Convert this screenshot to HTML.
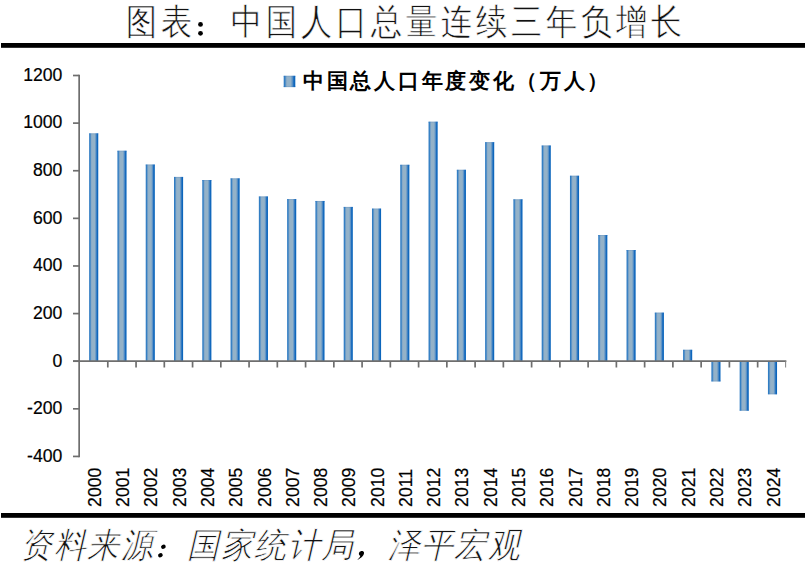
<!DOCTYPE html><html><head><meta charset="utf-8"><style>html,body{margin:0;padding:0;background:#fff;width:807px;height:574px;overflow:hidden}svg{display:block}text{font-family:"Liberation Sans",sans-serif}</style></head><body>
<svg width="807" height="574" viewBox="0 0 807 574">
<defs><linearGradient id="g" x1="0" x2="1" y1="0" y2="0"><stop offset="0" stop-color="#2a78c2"/><stop offset="0.1" stop-color="#3580c4"/><stop offset="0.25" stop-color="#8aabc8"/><stop offset="0.32" stop-color="#94b2c8"/><stop offset="0.6" stop-color="#94b2c8"/><stop offset="0.75" stop-color="#5c92c6"/><stop offset="0.86" stop-color="#1a6cbe"/><stop offset="1" stop-color="#0060ba"/></linearGradient><linearGradient id="gt" x1="0" x2="1" y1="0" y2="0"><stop offset="0" stop-color="#1f70c0"/><stop offset="0.3" stop-color="#6f9ac4"/><stop offset="0.6" stop-color="#6f9ac4"/><stop offset="1" stop-color="#0a60bc"/></linearGradient><linearGradient id="gl" x1="0" x2="1" y1="0" y2="0"><stop offset="0" stop-color="#2a74c2"/><stop offset="0.25" stop-color="#7ea4c8"/><stop offset="0.5" stop-color="#9fb9cf"/><stop offset="0.75" stop-color="#7aa2c8"/><stop offset="1" stop-color="#0f66c0"/></linearGradient></defs>
<text transform="translate(126.30,34.30) scale(0.89,1.03)" font-size="35" fill="#111" stroke="#fff" stroke-width="0.6" paint-order="fill stroke">图</text>
<text transform="translate(161.30,34.30) scale(0.89,1.03)" font-size="35" fill="#111" stroke="#fff" stroke-width="0.6" paint-order="fill stroke">表</text>
<text transform="translate(231.30,34.30) scale(0.89,1.03)" font-size="35" fill="#111" stroke="#fff" stroke-width="0.6" paint-order="fill stroke">中</text>
<text transform="translate(266.30,34.30) scale(0.89,1.03)" font-size="35" fill="#111" stroke="#fff" stroke-width="0.6" paint-order="fill stroke">国</text>
<text transform="translate(301.30,34.30) scale(0.89,1.03)" font-size="35" fill="#111" stroke="#fff" stroke-width="0.6" paint-order="fill stroke">人</text>
<text transform="translate(336.30,34.30) scale(0.89,1.03)" font-size="35" fill="#111" stroke="#fff" stroke-width="0.6" paint-order="fill stroke">口</text>
<text transform="translate(371.30,34.30) scale(0.89,1.03)" font-size="35" fill="#111" stroke="#fff" stroke-width="0.6" paint-order="fill stroke">总</text>
<text transform="translate(406.30,34.30) scale(0.89,1.03)" font-size="35" fill="#111" stroke="#fff" stroke-width="0.6" paint-order="fill stroke">量</text>
<text transform="translate(441.30,34.30) scale(0.89,1.03)" font-size="35" fill="#111" stroke="#fff" stroke-width="0.6" paint-order="fill stroke">连</text>
<text transform="translate(476.30,34.30) scale(0.89,1.03)" font-size="35" fill="#111" stroke="#fff" stroke-width="0.6" paint-order="fill stroke">续</text>
<text transform="translate(511.30,34.30) scale(0.89,1.03)" font-size="35" fill="#111" stroke="#fff" stroke-width="0.6" paint-order="fill stroke">三</text>
<text transform="translate(546.30,34.30) scale(0.89,1.03)" font-size="35" fill="#111" stroke="#fff" stroke-width="0.6" paint-order="fill stroke">年</text>
<text transform="translate(581.30,34.30) scale(0.89,1.03)" font-size="35" fill="#111" stroke="#fff" stroke-width="0.6" paint-order="fill stroke">负</text>
<text transform="translate(616.30,34.30) scale(0.89,1.03)" font-size="35" fill="#111" stroke="#fff" stroke-width="0.6" paint-order="fill stroke">增</text>
<text transform="translate(651.30,34.30) scale(0.89,1.03)" font-size="35" fill="#111" stroke="#fff" stroke-width="0.6" paint-order="fill stroke">长</text>
<g fill="#000"><circle cx="200.5" cy="24.4" r="2.4"/><circle cx="200.5" cy="33.3" r="2.4"/></g>
<rect x="1" y="43" width="804" height="4.8" fill="#000"/>
<rect x="1" y="513" width="804" height="4.8" fill="#000"/>
<rect x="89.15" y="133.35" width="9.10" height="227.85" fill="url(#g)"/>
<rect x="89.15" y="133.35" width="9.10" height="1.0" fill="url(#gt)" fill-opacity="0.5"/>
<rect x="117.43" y="150.73" width="9.10" height="210.47" fill="url(#g)"/>
<rect x="117.43" y="150.73" width="9.10" height="1.0" fill="url(#gt)" fill-opacity="0.5"/>
<rect x="145.72" y="164.54" width="9.10" height="196.66" fill="url(#g)"/>
<rect x="145.72" y="164.54" width="9.10" height="1.0" fill="url(#gt)" fill-opacity="0.5"/>
<rect x="174.00" y="176.92" width="9.10" height="184.28" fill="url(#g)"/>
<rect x="174.00" y="176.92" width="9.10" height="1.0" fill="url(#gt)" fill-opacity="0.5"/>
<rect x="202.28" y="180.02" width="9.10" height="181.18" fill="url(#g)"/>
<rect x="202.28" y="180.02" width="9.10" height="1.0" fill="url(#gt)" fill-opacity="0.5"/>
<rect x="230.56" y="178.35" width="9.10" height="182.85" fill="url(#g)"/>
<rect x="230.56" y="178.35" width="9.10" height="1.0" fill="url(#gt)" fill-opacity="0.5"/>
<rect x="258.85" y="196.45" width="9.10" height="164.75" fill="url(#g)"/>
<rect x="258.85" y="196.45" width="9.10" height="1.0" fill="url(#gt)" fill-opacity="0.5"/>
<rect x="287.13" y="199.07" width="9.10" height="162.13" fill="url(#g)"/>
<rect x="287.13" y="199.07" width="9.10" height="1.0" fill="url(#gt)" fill-opacity="0.5"/>
<rect x="315.41" y="200.97" width="9.10" height="160.23" fill="url(#g)"/>
<rect x="315.41" y="200.97" width="9.10" height="1.0" fill="url(#gt)" fill-opacity="0.5"/>
<rect x="343.70" y="206.92" width="9.10" height="154.28" fill="url(#g)"/>
<rect x="343.70" y="206.92" width="9.10" height="1.0" fill="url(#gt)" fill-opacity="0.5"/>
<rect x="371.98" y="208.59" width="9.10" height="152.61" fill="url(#g)"/>
<rect x="371.98" y="208.59" width="9.10" height="1.0" fill="url(#gt)" fill-opacity="0.5"/>
<rect x="400.26" y="164.78" width="9.10" height="196.42" fill="url(#g)"/>
<rect x="400.26" y="164.78" width="9.10" height="1.0" fill="url(#gt)" fill-opacity="0.5"/>
<rect x="428.55" y="121.69" width="9.10" height="239.51" fill="url(#g)"/>
<rect x="428.55" y="121.69" width="9.10" height="1.0" fill="url(#gt)" fill-opacity="0.5"/>
<rect x="456.83" y="169.78" width="9.10" height="191.42" fill="url(#g)"/>
<rect x="456.83" y="169.78" width="9.10" height="1.0" fill="url(#gt)" fill-opacity="0.5"/>
<rect x="485.11" y="142.16" width="9.10" height="219.04" fill="url(#g)"/>
<rect x="485.11" y="142.16" width="9.10" height="1.0" fill="url(#gt)" fill-opacity="0.5"/>
<rect x="513.40" y="199.30" width="9.10" height="161.90" fill="url(#g)"/>
<rect x="513.40" y="199.30" width="9.10" height="1.0" fill="url(#gt)" fill-opacity="0.5"/>
<rect x="541.68" y="145.50" width="9.10" height="215.70" fill="url(#g)"/>
<rect x="541.68" y="145.50" width="9.10" height="1.0" fill="url(#gt)" fill-opacity="0.5"/>
<rect x="569.96" y="175.73" width="9.10" height="185.47" fill="url(#g)"/>
<rect x="569.96" y="175.73" width="9.10" height="1.0" fill="url(#gt)" fill-opacity="0.5"/>
<rect x="598.24" y="235.02" width="9.10" height="126.18" fill="url(#g)"/>
<rect x="598.24" y="235.02" width="9.10" height="1.0" fill="url(#gt)" fill-opacity="0.5"/>
<rect x="626.53" y="250.02" width="9.10" height="111.18" fill="url(#g)"/>
<rect x="626.53" y="250.02" width="9.10" height="1.0" fill="url(#gt)" fill-opacity="0.5"/>
<rect x="654.81" y="312.63" width="9.10" height="48.57" fill="url(#g)"/>
<rect x="654.81" y="312.63" width="9.10" height="1.0" fill="url(#gt)" fill-opacity="0.5"/>
<rect x="683.09" y="349.77" width="9.10" height="11.43" fill="url(#g)"/>
<rect x="683.09" y="349.77" width="9.10" height="1.0" fill="url(#gt)" fill-opacity="0.5"/>
<rect x="711.38" y="361.20" width="9.10" height="20.24" fill="url(#g)"/>
<rect x="711.38" y="380.44" width="9.10" height="1.0" fill="url(#gt)" fill-opacity="0.5"/>
<rect x="739.66" y="361.20" width="9.10" height="49.52" fill="url(#g)"/>
<rect x="739.66" y="409.72" width="9.10" height="1.0" fill="url(#gt)" fill-opacity="0.5"/>
<rect x="767.94" y="361.20" width="9.10" height="33.09" fill="url(#g)"/>
<rect x="767.94" y="393.29" width="9.10" height="1.0" fill="url(#gt)" fill-opacity="0.5"/>
<g stroke="#6e6e6e" stroke-width="1.7" fill="none">
<line x1="79.15" y1="74.65" x2="79.15" y2="457.35"/>
<line x1="73" y1="75.50" x2="79.15" y2="75.50"/>
<line x1="73" y1="123.12" x2="79.15" y2="123.12"/>
<line x1="73" y1="170.73" x2="79.15" y2="170.73"/>
<line x1="73" y1="218.35" x2="79.15" y2="218.35"/>
<line x1="73" y1="265.97" x2="79.15" y2="265.97"/>
<line x1="73" y1="313.58" x2="79.15" y2="313.58"/>
<line x1="73" y1="361.20" x2="79.15" y2="361.20"/>
<line x1="73" y1="408.82" x2="79.15" y2="408.82"/>
<line x1="73" y1="456.43" x2="79.15" y2="456.43"/>
<line x1="73" y1="361.20" x2="786.35" y2="361.20"/>
<line x1="107.80" y1="361.20" x2="107.80" y2="367.50"/>
<line x1="136.06" y1="361.20" x2="136.06" y2="367.50"/>
<line x1="164.31" y1="361.20" x2="164.31" y2="367.50"/>
<line x1="192.57" y1="361.20" x2="192.57" y2="367.50"/>
<line x1="220.82" y1="361.20" x2="220.82" y2="367.50"/>
<line x1="249.07" y1="361.20" x2="249.07" y2="367.50"/>
<line x1="277.33" y1="361.20" x2="277.33" y2="367.50"/>
<line x1="305.58" y1="361.20" x2="305.58" y2="367.50"/>
<line x1="333.84" y1="361.20" x2="333.84" y2="367.50"/>
<line x1="362.09" y1="361.20" x2="362.09" y2="367.50"/>
<line x1="390.34" y1="361.20" x2="390.34" y2="367.50"/>
<line x1="418.60" y1="361.20" x2="418.60" y2="367.50"/>
<line x1="446.85" y1="361.20" x2="446.85" y2="367.50"/>
<line x1="475.11" y1="361.20" x2="475.11" y2="367.50"/>
<line x1="503.36" y1="361.20" x2="503.36" y2="367.50"/>
<line x1="531.61" y1="361.20" x2="531.61" y2="367.50"/>
<line x1="559.87" y1="361.20" x2="559.87" y2="367.50"/>
<line x1="588.12" y1="361.20" x2="588.12" y2="367.50"/>
<line x1="616.38" y1="361.20" x2="616.38" y2="367.50"/>
<line x1="644.63" y1="361.20" x2="644.63" y2="367.50"/>
<line x1="672.88" y1="361.20" x2="672.88" y2="367.50"/>
<line x1="701.14" y1="361.20" x2="701.14" y2="367.50"/>
<line x1="729.39" y1="361.20" x2="729.39" y2="367.50"/>
<line x1="757.65" y1="361.20" x2="757.65" y2="367.50"/>
<line x1="785.6" y1="361.20" x2="785.6" y2="367.50" stroke-width="1.1" stroke="#8a8a8a"/>
</g>
<g fill="#000" stroke="#000" stroke-width="0.2">
<text x="62.3" y="80.8" font-size="17.6" text-anchor="end">1200</text>
<text x="62.3" y="128.4" font-size="17.6" text-anchor="end">1000</text>
<text x="62.3" y="176.0" font-size="17.6" text-anchor="end">800</text>
<text x="62.3" y="223.7" font-size="17.6" text-anchor="end">600</text>
<text x="62.3" y="271.3" font-size="17.6" text-anchor="end">400</text>
<text x="62.3" y="318.9" font-size="17.6" text-anchor="end">200</text>
<text x="62.3" y="366.5" font-size="17.6" text-anchor="end">0</text>
<text x="62.3" y="414.1" font-size="17.6" text-anchor="end">-200</text>
<text x="62.3" y="461.7" font-size="17.6" text-anchor="end">-400</text>
<text transform="translate(100.80,506.9) rotate(-90)" font-size="17.6">2000</text>
<text transform="translate(129.08,506.9) rotate(-90)" font-size="17.6">2001</text>
<text transform="translate(157.37,506.9) rotate(-90)" font-size="17.6">2002</text>
<text transform="translate(185.65,506.9) rotate(-90)" font-size="17.6">2003</text>
<text transform="translate(213.93,506.9) rotate(-90)" font-size="17.6">2004</text>
<text transform="translate(242.22,506.9) rotate(-90)" font-size="17.6">2005</text>
<text transform="translate(270.50,506.9) rotate(-90)" font-size="17.6">2006</text>
<text transform="translate(298.78,506.9) rotate(-90)" font-size="17.6">2007</text>
<text transform="translate(327.06,506.9) rotate(-90)" font-size="17.6">2008</text>
<text transform="translate(355.35,506.9) rotate(-90)" font-size="17.6">2009</text>
<text transform="translate(383.63,506.9) rotate(-90)" font-size="17.6">2010</text>
<text transform="translate(411.91,506.9) rotate(-90)" font-size="17.6">2011</text>
<text transform="translate(440.20,506.9) rotate(-90)" font-size="17.6">2012</text>
<text transform="translate(468.48,506.9) rotate(-90)" font-size="17.6">2013</text>
<text transform="translate(496.76,506.9) rotate(-90)" font-size="17.6">2014</text>
<text transform="translate(525.05,506.9) rotate(-90)" font-size="17.6">2015</text>
<text transform="translate(553.33,506.9) rotate(-90)" font-size="17.6">2016</text>
<text transform="translate(581.61,506.9) rotate(-90)" font-size="17.6">2017</text>
<text transform="translate(609.89,506.9) rotate(-90)" font-size="17.6">2018</text>
<text transform="translate(638.18,506.9) rotate(-90)" font-size="17.6">2019</text>
<text transform="translate(666.46,506.9) rotate(-90)" font-size="17.6">2020</text>
<text transform="translate(694.74,506.9) rotate(-90)" font-size="17.6">2021</text>
<text transform="translate(723.03,506.9) rotate(-90)" font-size="17.6">2022</text>
<text transform="translate(751.31,506.9) rotate(-90)" font-size="17.6">2023</text>
<text transform="translate(779.59,506.9) rotate(-90)" font-size="17.6">2024</text>
</g>
<rect x="283.7" y="75.8" width="11.6" height="11.3" fill="url(#g)"/><rect x="283.7" y="75.8" width="11.6" height="1" fill="url(#gt)" fill-opacity="0.5"/><rect x="283.7" y="86.1" width="11.6" height="1" fill="url(#gt)" fill-opacity="0.5"/>
<text x="303.00 326.70 350.40 374.10 397.80 421.50 445.20 468.90 492.60 516.30 540.00 563.70 587.40" y="87.7" font-size="21" font-weight="bold" fill="#000">中国总人口年度变化（万人）</text>
<g transform="translate(0,557.45) scale(1,1.08) translate(0,-557.45)"><text x="20.50 53.88 87.26 120.64 142.02 187.40 220.78 254.16 287.54 320.92 342.30 387.68 421.06 454.44 487.82" y="557.45" font-size="32" font-style="italic" fill="#111" stroke="#fff" stroke-width="0.72" paint-order="fill stroke">资料来源　国家统计局　泽平宏观</text></g>
<g fill="#000"><ellipse cx="163.4" cy="546.8" rx="2.4" ry="2.1" transform="rotate(-30 163.4 546.8)"/><ellipse cx="160.4" cy="555.3" rx="2.4" ry="2.1" transform="rotate(-30 160.4 555.3)"/><path d="M359.2,552.6 C360.3,550.6 363.6,550.6 364,552.6 C364.3,555 361.5,558.3 357.2,560 C359.5,558 360,557 360.3,555.8 C358.8,555.3 358.5,553.8 359.2,552.6 Z"/></g>
</svg></body></html>
